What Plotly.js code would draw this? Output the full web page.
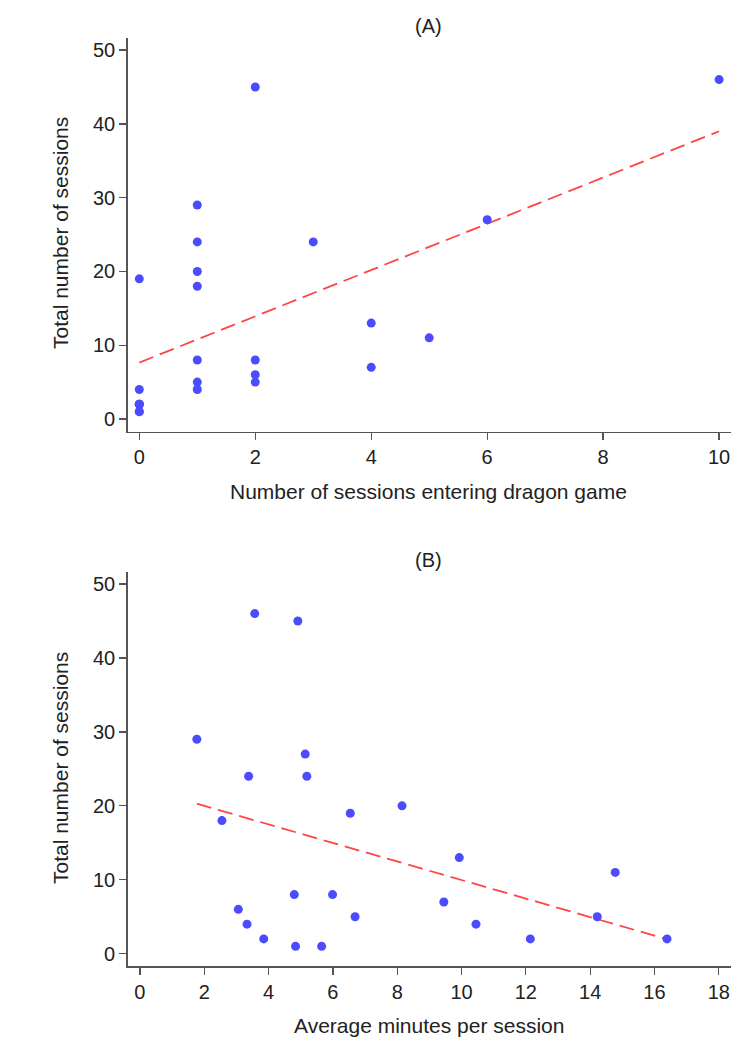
<!DOCTYPE html>
<html>
<head>
<meta charset="utf-8">
<script src="https://cdn.plot.ly/plotly-3.0.1.min.js"></script>
<style>html,body{margin:0;padding:0;background:#fff;}#chart{width:753px;height:1037px;}</style>
</head>
<body>
<div id="chart"></div>
<script>
// Panel A: sessions entering dragon game vs total sessions
const dragonSessions = [0,0,0,0,0,0,0, 1,1,1,1,1,1,1, 2,2,2,2, 3, 4,4, 5, 6, 10];
const totalSessionsA = [19,4,2,2,2,1,1, 29,24,20,18,8,5,4, 45,8,6,5, 24, 13,7, 11, 27, 46];

// Panel B: average minutes per session vs total sessions
const avgMinutes = [1.77,3.57,4.91,5.14,3.38,5.19,2.55,6.54,8.15,9.93,14.78,4.80,5.99,9.45,3.06,6.69,14.22,3.33,10.45,3.85,12.14,16.39,4.84,5.65];
const totalSessionsB = [29,46,45,27,24,24,18,19,20,13,11,8,8,7,6,5,5,4,4,2,2,2,1,1];

const panelTitles = ["(A)", "(B)"];
const xTitles = ["Number of sessions entering dragon game", "Average minutes per session"];
const yTitle = "Total number of sessions";

function fit(xs, ys) {
  const n = xs.length;
  const mx = xs.reduce((a,b)=>a+b,0)/n, my = ys.reduce((a,b)=>a+b,0)/n;
  let sxy = 0, sxx = 0;
  for (let i=0;i<n;i++){ sxy += (xs[i]-mx)*(ys[i]-my); sxx += (xs[i]-mx)**2; }
  const b = sxy/sxx, a = my - b*mx;
  const x0 = Math.min(...xs), x1 = Math.max(...xs);
  return {x:[x0,x1], y:[a+b*x0, a+b*x1]};
}

const fA = fit(dragonSessions, totalSessionsA);
const fB = fit(avgMinutes, totalSessionsB);

const dotColor = "#4B4BFF";
const lineColor = "#FF4545";
const font = "Liberation Sans, Arial, sans-serif";
const txt = "#222";

const traces = [
  {x: fA.x, y: fA.y, mode:"lines", line:{color:lineColor, width:1.8, dash:"15px,7px"}, xaxis:"x", yaxis:"y", hoverinfo:"skip"},
  {x: dragonSessions, y: totalSessionsA, mode:"markers", marker:{color:dotColor, size:9}, xaxis:"x", yaxis:"y"},
  {x: fB.x, y: fB.y, mode:"lines", line:{color:lineColor, width:1.8, dash:"15px,7px"}, xaxis:"x2", yaxis:"y2", hoverinfo:"skip"},
  {x: avgMinutes, y: totalSessionsB, mode:"markers", marker:{color:dotColor, size:9}, xaxis:"x2", yaxis:"y2"}
];

const W = 753, H = 1037;
const axCommon = {
  showline:true, linecolor:"#555", linewidth:1.5, mirror:false,
  ticks:"outside", ticklen:7, tickwidth:1.3, tickcolor:"#555",
  showgrid:false, zeroline:false, fixedrange:true,
  tickfont:{family:font, size:20, color:txt}
};

const layout = {
  width:W, height:H,
  margin:{l:0, r:0, t:0, b:0},
  paper_bgcolor:"#fff", plot_bgcolor:"#fff",
  showlegend:false,
  font:{family:font, color:txt},
  xaxis: Object.assign({}, axCommon, {domain:[127.7/W, 730.7/W], range:[-0.2, 10.2], tickvals:[0,2,4,6,8,10], anchor:"y"}),
  yaxis: Object.assign({}, axCommon, {domain:[1-431.7/H, 1-38.3/H], range:[-1.72, 51.6], tickvals:[0,10,20,30,40,50], anchor:"x"}),
  xaxis2: Object.assign({}, axCommon, {domain:[127.7/W, 730.7/W], range:[-0.38, 18.37], tickvals:[0,2,4,6,8,10,12,14,16,18], anchor:"y2"}),
  yaxis2: Object.assign({}, axCommon, {domain:[1-966/H, 1-572.3/H], range:[-1.66, 51.58], tickvals:[0,10,20,30,40,50], anchor:"x2"}),
  annotations: [
    {text:panelTitles[0], xref:"paper", yref:"paper", x:428.5/W, y:1-26/H, xanchor:"center", yanchor:"middle", showarrow:false, font:{family:font, size:20, color:txt}},
    {text:panelTitles[1], xref:"paper", yref:"paper", x:428.5/W, y:1-560/H, xanchor:"center", yanchor:"middle", showarrow:false, font:{family:font, size:20, color:txt}},
    {text:xTitles[0], xref:"paper", yref:"paper", x:428.5/W, y:1-491/H, xanchor:"center", yanchor:"middle", showarrow:false, font:{family:font, size:21, color:txt}},
    {text:xTitles[1], xref:"paper", yref:"paper", x:428.5/W, y:1-1025/H, xanchor:"center", yanchor:"middle", showarrow:false, font:{family:font, size:21, color:txt}},
    {text:yTitle, xref:"paper", yref:"paper", x:60/W, y:1-233/H, xanchor:"center", yanchor:"middle", textangle:-90, showarrow:false, font:{family:font, size:21, color:txt}},
    {text:yTitle, xref:"paper", yref:"paper", x:60/W, y:1-768/H, xanchor:"center", yanchor:"middle", textangle:-90, showarrow:false, font:{family:font, size:21, color:txt}}
  ]
};

Plotly.newPlot("chart", traces, layout, {staticPlot:true, displayModeBar:false});
</script>
</body>
</html>
